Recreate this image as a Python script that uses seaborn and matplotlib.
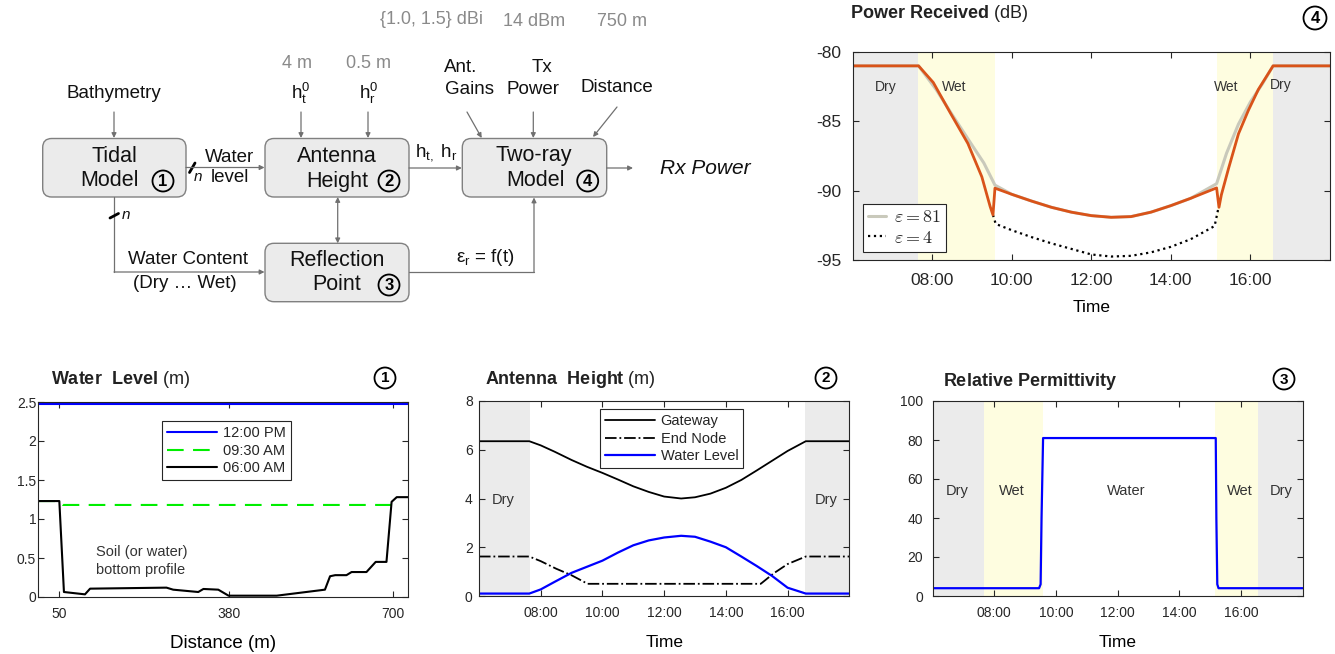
import matplotlib
matplotlib.use("Agg")
import matplotlib.pyplot as plt
import seaborn as sns
from matplotlib.patches import FancyBboxPatch, Circle

W, H = 1335, 654

# ---- Power received (dB) vs time (hours) ----
pr81_time = [6.0, 7.66, 8.1, 8.5, 9.0, 9.3, 9.58, 10.0, 10.5, 11.0, 11.5, 12.0, 12.5, 13.0,
             13.5, 14.0, 14.5, 15.15, 15.4, 15.7, 16.0, 16.3, 16.57, 18.0]
pr81_db = [-81.0, -81.0, -82.7, -84.5, -86.7, -88.0, -89.6, -90.26, -90.75, -91.2, -91.55,
           -91.8, -91.92, -91.87, -91.55, -91.08, -90.55, -89.5, -87.3, -85.2, -83.6, -82.3,
           -81.0, -81.0]
pr4_time = [9.53, 9.6, 10.0, 10.5, 11.0, 11.5, 12.0, 12.5, 13.0, 13.5, 14.0, 14.5, 15.1, 15.2]
pr4_db = [-91.75, -92.4, -92.85, -93.35, -93.8, -94.2, -94.6, -94.75, -94.7, -94.45,
          -94.05, -93.5, -92.55, -91.2]
pr_time = [6.0, 7.66, 8.03, 8.46, 8.9, 9.25, 9.46, 9.53, 9.58, 10.0, 10.5, 11.0, 11.5, 12.0,
           12.5, 13.0, 13.5, 14.0, 14.5, 15.15, 15.21, 15.27, 15.45, 15.7, 15.95, 16.2, 16.57,
           18.0]
pr_db = [-81.0, -81.0, -82.2, -84.4, -86.6, -89.0, -91.15, -91.75, -89.82, -90.26, -90.75,
         -91.2, -91.55, -91.8, -91.92, -91.87, -91.55, -91.08, -90.55, -89.8, -91.2, -90.3,
         -88.4, -85.9, -84.2, -82.7, -81.0, -81.0]

# ---- Water level (m) vs distance (m) ----
wl_dist = [9, 50, 59, 100, 110, 259, 272, 321, 331, 360, 380, 474, 568, 578, 588, 610, 620,
           649, 667, 688, 698, 708, 730]
wl_0600 = [1.23, 1.23, 0.064, 0.034, 0.107, 0.12, 0.094, 0.064, 0.103, 0.094, 0.017, 0.017,
           0.094, 0.266, 0.28, 0.28, 0.32, 0.32, 0.45, 0.45, 1.22, 1.28, 1.28]
wl_0930_dist = [9, 50, 57, 698]
wl_0930 = [1.23, 1.23, 1.18, 1.18]
wl_1200_dist = [9, 730]
wl_1200 = [2.47, 2.47]

# ---- Antenna height (m) vs time ----
ah_time = [6.0, 7.63, 8.0, 8.45, 9.0, 9.5, 10.0, 10.5, 11.0, 11.5, 12.0, 12.55, 13.0, 13.5,
           14.0, 14.5, 15.0, 15.5, 16.0, 16.59, 18.0]
gateway = [6.35, 6.35, 6.18, 5.92, 5.58, 5.3, 5.05, 4.78, 4.5, 4.27, 4.08, 4.0, 4.05, 4.2,
           4.44, 4.76, 5.15, 5.55, 5.95, 6.35, 6.35]
water_level = [0.1, 0.1, 0.27, 0.58, 0.95, 1.2, 1.45, 1.78, 2.08, 2.28, 2.4, 2.47, 2.43, 2.23,
               2.0, 1.62, 1.23, 0.82, 0.34, 0.1, 0.1]
node_time = [6.0, 7.63, 8.0, 8.5, 9.0, 9.52, 15.13, 15.55, 16.0, 16.59, 18.0]
end_node = [1.62, 1.62, 1.43, 1.12, 0.85, 0.5, 0.5, 0.93, 1.31, 1.62, 1.62]

# ---- Relative permittivity vs time ----
rp_time = [6.0, 9.45, 9.5, 9.53, 9.58, 15.18, 15.2, 15.23, 15.27, 18.0]
rel_perm = [4, 4, 6, 40, 81, 81, 40, 6, 4, 4]

TIME_TICKS = [8, 10, 12, 14, 16]
TIME_LABELS = ["08:00", "10:00", "12:00", "14:00", "16:00"]
regions = [(6.0, 7.65, "dry"), (7.65, 9.58, "wet"), (15.17, 16.56, "wet"), (16.56, 18.0, "dry")]

DRY = "#ebebeb"
WET = "#fefde0"
INK = "#262626"

sns.set_theme(style="ticks")
plt.rcParams["font.family"] = ["Liberation Sans", "DejaVu Sans"]
plt.rcParams["mathtext.fontset"] = "custom"
plt.rcParams["mathtext.rm"] = "Liberation Sans"
plt.rcParams["mathtext.bf"] = "Liberation Sans:bold"
plt.rcParams["mathtext.it"] = "Liberation Sans:italic"
plt.rcParams["axes.unicode_minus"] = False

fig = plt.figure(figsize=(W / 100, H / 100), dpi=100)


def rect(l, t, r, b):
    return [l / W, 1 - b / H, (r - l) / W, (b - t) / H]


def style_axes(ax, size, xpad, ypad):
    for s in ax.spines.values():
        s.set_visible(True)
        s.set_color(INK)
        s.set_linewidth(0.8)
    ax.tick_params(direction="in", top=True, right=True, length=4, width=0.8,
                   colors=INK, labelsize=size)
    ax.tick_params(axis="x", pad=xpad)
    ax.tick_params(axis="y", pad=ypad)
    ax.grid(False)


def shade(ax, kinds=("dry", "wet")):
    for a, b, k in regions:
        if k in kinds:
            ax.axvspan(a, b, color=DRY if k == "dry" else WET, lw=0, zorder=0)


def time_axis(ax):
    ax.set_xlim(6, 18)
    ax.set_xticks(TIME_TICKS)
    ax.set_xticklabels(TIME_LABELS)


def legend(ax, handles, labels, anchor, loc, **kw):
    leg = ax.legend(handles, labels, loc=loc, bbox_to_anchor=anchor, borderaxespad=0,
                    fancybox=False, framealpha=1, edgecolor=INK, **kw)
    leg.get_frame().set_linewidth(0.8)
    return leg


# ---------------- Power received ----------------
ax4 = fig.add_axes(rect(852.5, 52, 1330, 260))
shade(ax4)
sns.lineplot(x=pr81_time, y=pr81_db, ax=ax4, color="#c9c9bb", lw=2.2, estimator=None, sort=False)
sns.lineplot(x=pr4_time, y=pr4_db, ax=ax4, color="black", lw=1.6, ls=":", estimator=None, sort=False)
sns.lineplot(x=pr_time, y=pr_db, ax=ax4, color="#d95319", lw=2.0, estimator=None, sort=False)
time_axis(ax4)
ax4.set_ylim(-95, -80)
ax4.set_yticks([-95, -90, -85, -80])
style_axes(ax4, 12.5, 9.5, 8)
ax4.set_xlabel("Time", fontsize=12.5, color="black")
ax4.xaxis.set_label_coords(0.5, -0.19)
ax4.set_ylabel("")
lines = ax4.get_lines()
leg = legend(ax4, [lines[0], lines[1]], [r"$\varepsilon = 81$", r"$\varepsilon = 4$"],
             (0.022, 0.038), "lower left", fontsize=13, handlelength=1.0, handletextpad=0.4,
             labelspacing=0.2, borderpad=0.3)
for t in leg.get_texts():
    t.set_math_fontfamily("cm")
for x, y, s in [(6.83, -82.5, "Dry"), (8.55, -82.5, "Wet"), (15.4, -82.5, "Wet"), (16.75, -82.4, "Dry")]:
    ax4.text(x, y, s, ha="center", va="center", fontsize=10, color="#333333")

# ---------------- Water level ----------------
ax1 = fig.add_axes(rect(38.3, 402, 408, 597))
sns.lineplot(x=wl_1200_dist, y=wl_1200, ax=ax1, color="#0000ff", lw=1.5, estimator=None, sort=False)
sns.lineplot(x=wl_0930_dist, y=wl_0930, ax=ax1, color="#00ee00", lw=1.5, ls=(0, (8, 4.5)),
             estimator=None, sort=False)
sns.lineplot(x=wl_dist, y=wl_0600, ax=ax1, color="black", lw=1.5, estimator=None, sort=False)
ax1.set_xlim(9, 730)
ax1.set_ylim(0, 2.5)
ax1.set_xticks([50, 380, 700])
ax1.set_yticks([0, 0.5, 1, 1.5, 2, 2.5])
ax1.set_yticklabels(["0", "0.5", "1", "1.5", "2", "2.5"])
style_axes(ax1, 10, 7, 1.5)
ax1.set_xlabel("Distance (m)", fontsize=13.5, color="black")
ax1.xaxis.set_label_coords(0.5, -0.195)
ax1.set_ylabel("")
l1 = ax1.get_lines()
legend(ax1, l1[:3], ["12:00 PM", "09:30 AM", "06:00 AM"], (0.335, 0.903), "upper left",
       fontsize=10.5, handlelength=3.4, handletextpad=0.4, labelspacing=0.25, borderpad=0.35)
ax1.text(121, 0.46, "Soil (or water)\nbottom profile", ha="left", va="center", fontsize=10.5,
         color="#333333", linespacing=1.3)

# ---------------- Antenna height ----------------
ax2 = fig.add_axes(rect(479, 401, 849.3, 596))
shade(ax2, kinds=("dry",))
sns.lineplot(x=ah_time, y=gateway, ax=ax2, color="black", lw=1.3, estimator=None, sort=False)
sns.lineplot(x=node_time, y=end_node, ax=ax2, color="black", lw=1.3, ls="-.", estimator=None, sort=False)
sns.lineplot(x=ah_time, y=water_level, ax=ax2, color="#0000ff", lw=1.6, estimator=None, sort=False)
time_axis(ax2)
ax2.set_ylim(0, 8)
ax2.set_yticks([0, 2, 4, 6, 8])
style_axes(ax2, 10, 7, 4.5)
ax2.set_xlabel("Time", fontsize=12.5, color="black")
ax2.xaxis.set_label_coords(0.5, -0.2)
ax2.set_ylabel("")
l2 = ax2.get_lines()
legend(ax2, l2[:3], ["Gateway", "End Node", "Water Level"], (0.327, 0.959), "upper left",
       fontsize=10.5, handlelength=3.4, handletextpad=0.4, labelspacing=0.25, borderpad=0.35)
ax2.text(6.77, 3.94, "Dry", ha="center", va="center", fontsize=10.5, color="#333333")
ax2.text(17.25, 3.94, "Dry", ha="center", va="center", fontsize=10.5, color="#333333")

# ---------------- Relative permittivity ----------------
ax3 = fig.add_axes(rect(932.7, 401, 1302.7, 596))
shade(ax3)
sns.lineplot(x=rp_time, y=rel_perm, ax=ax3, color="#0000ff", lw=1.6, estimator=None, sort=False)
time_axis(ax3)
ax3.set_ylim(0, 100)
ax3.set_yticks([0, 20, 40, 60, 80, 100])
style_axes(ax3, 10, 7, 7)
ax3.set_xlabel("Time", fontsize=12.5, color="black")
ax3.xaxis.set_label_coords(0.5, -0.2)
ax3.set_ylabel("")
for x, s in [(6.79, "Dry"), (8.57, "Wet"), (12.27, "Water"), (15.97, "Wet"), (17.3, "Dry")]:
    ax3.text(x, 53.8, s, ha="center", va="center", fontsize=10.5, color="#333333")

# ---------------- overlay: titles, badges and block diagram ----------------
dax = fig.add_axes([0, 0, 1, 1])
dax.set_xlim(0, W)
dax.set_ylim(H, 0)
dax.axis("off")
dax.patch.set_alpha(0)

for x, y, s in [(850, 14, r"$\mathbf{Power\ Received}$ (dB)"),
                (51, 380, r"$\mathbf{Water\ \ Level}$ (m)"),
                (485, 380, r"$\mathbf{Antenna\ \ Height}$ (m)"),
                (943, 382, r"$\mathbf{Relative\ Permittivity}$")]:
    dax.text(x, y, s, ha="left", va="center", fontsize=13, color="#222222")


def badge(x, y, n, r=10.5, size=11):
    dax.add_patch(Circle((x, y), r, fc="none", ec="black", lw=1.3))
    dax.text(x, y + 0.5, n, ha="center", va="center", fontsize=size, fontweight="bold", color="black")


badge(1315, 18, "4", r=11.5, size=12)
badge(385, 378, "1")
badge(826, 378, "2")
badge(1284, 379, "3")

ARROW = "#707070"
BOX_EC = "#808080"


def box(l, t, r, b):
    dax.add_patch(FancyBboxPatch((l, t), r - l, b - t, boxstyle="round,pad=0,rounding_size=9",
                                 fc="#ebebeb", ec=BOX_EC, lw=1.0))


def arrow(x0, y0, x1, y1, style="-|>"):
    dax.annotate("", xy=(x1, y1), xytext=(x0, y0),
                 arrowprops=dict(arrowstyle=style, color=ARROW, lw=0.9, shrinkA=0, shrinkB=0,
                                 mutation_scale=7))


def label(x, y, s, size=13.5, color="#111111", **kw):
    dax.text(x, y, s, ha="center", va="center", fontsize=size, color=color, **kw)


box(42.7, 138.5, 186, 197)
box(265, 138.5, 409, 197)
box(462.3, 138.5, 606.7, 197)
box(265, 243.3, 409, 301.7)

BT = 15.5
label(114, 156, "Tidal", BT)
label(110, 181, "Model", BT)
badge(163, 181, "1", r=10.5, size=12)
label(337, 156, "Antenna", BT)
label(337, 181, "Height", BT)
badge(389, 181, "2", r=10.5, size=12)
label(534, 155, "Two-ray", BT)
label(535, 181, "Model", BT)
badge(587.7, 181, "4", r=10.5, size=12)
label(337, 260, "Reflection", BT)
label(337, 285, "Point", BT)
badge(389, 285, "3", r=10.5, size=12)

GRAY = "#8a8a8a"
label(431, 20, "{1.0, 1.5} dBi", 13, GRAY)
label(534, 21, "14 dBm", 13, GRAY)
label(621.7, 21, "750 m", 13, GRAY)
label(297, 63, "4 m", 13, GRAY)
label(369, 63, "0.5 m", 13, GRAY)

label(114, 93, "Bathymetry")
label(301, 93, r"h$_\mathrm{t}^\mathrm{0}$")
label(369, 93, r"h$_\mathrm{r}^\mathrm{0}$")
label(461, 68, "Ant.")
label(470, 90, "Gains")
label(541.7, 68, "Tx")
label(533.3, 90, "Power")
label(616.7, 87, "Distance")
label(230, 157, "Water")
label(230, 178, "level")
label(436, 153, r"h$_\mathrm{t,}$ h$_\mathrm{r}$")
label(188, 260, "Water Content")
label(185, 284, "(Dry \u2026 Wet)")
label(485, 258, "\u03b5$_\\mathrm{r}$ = f(t)")
label(705, 168, "Rx Power", 15, style="italic")
label(198, 177, "n", 11, style="italic")
label(126, 215, "n", 11, style="italic")

arrow(114, 112, 114, 138)
arrow(301, 112, 301, 138)
arrow(368, 112, 368, 138)
arrow(467, 112, 481.7, 138)
arrow(533.3, 112, 533.3, 138)
arrow(617, 107, 593, 137)
arrow(186, 167.5, 264.5, 167.5)
arrow(409, 168, 461.8, 168)
arrow(606.7, 168, 633, 168)
arrow(337.7, 197, 337.7, 243.3, style="<|-|>")
dax.plot([114, 114], [197, 272], color=ARROW, lw=0.9)
arrow(114, 272, 264.5, 272)
dax.plot([409, 534], [272, 272], color=ARROW, lw=0.9)
arrow(534, 272, 534, 197.5)
dax.plot([189.5, 195], [172.5, 163], color="black", lw=2)
dax.plot([110, 118.5], [218, 213.5], color="black", lw=2)

fig.savefig("out.png", dpi=100)
